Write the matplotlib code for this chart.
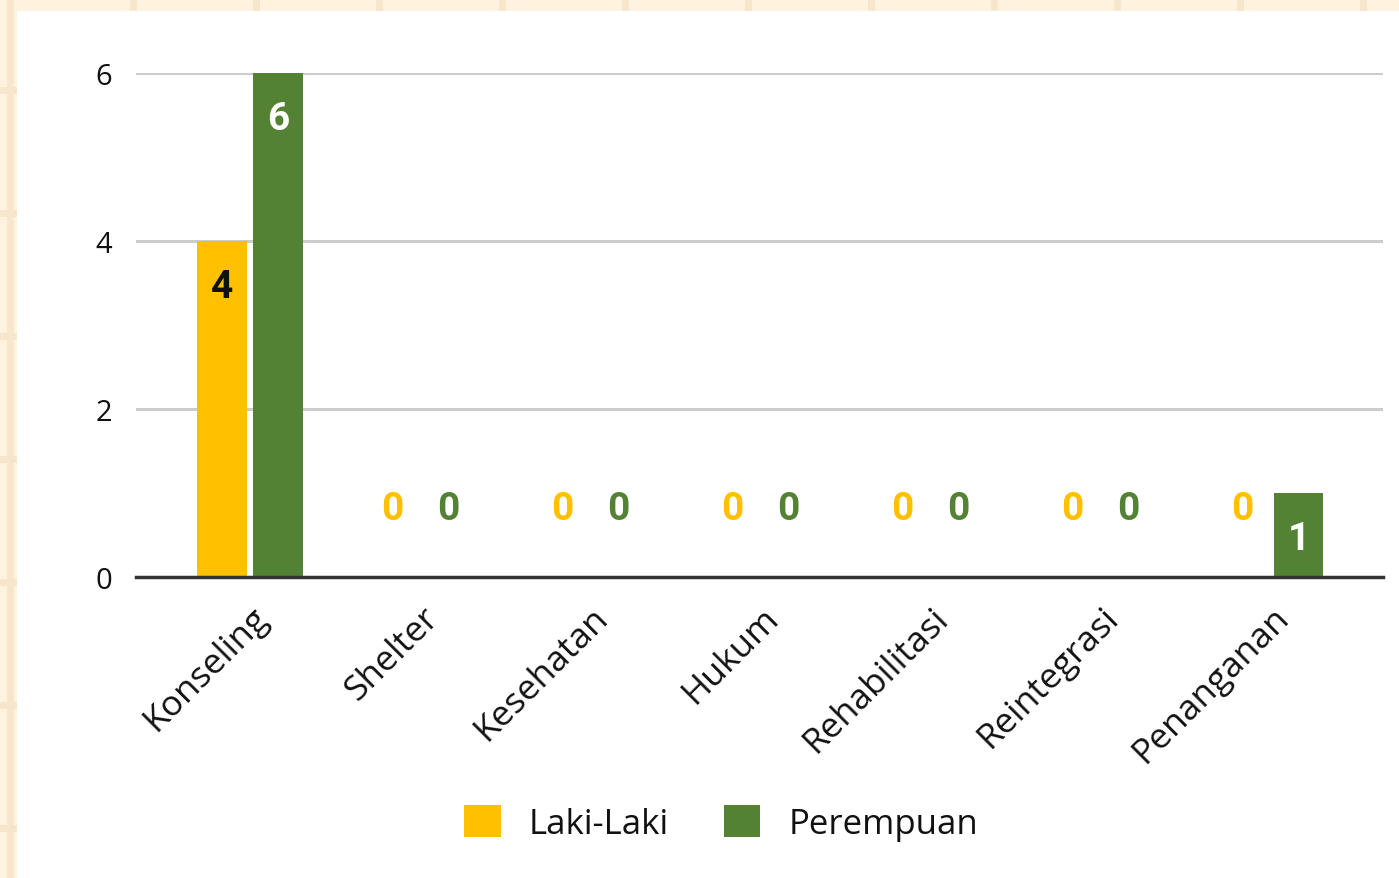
import matplotlib
matplotlib.use("Agg")
import matplotlib.pyplot as plt
import matplotlib.transforms as mtransforms
from matplotlib.patches import Rectangle
import numpy as np

categories = ["Konseling", "Shelter", "Kesehatan", "Hukum", "Rehabilitasi", "Reintegrasi", "Penanganan"]
laki = [4, 0, 0, 0, 0, 0, 0]
perempuan = [6, 0, 0, 0, 0, 0, 1]
series_names = ["Laki-Laki", "Perempuan"]
colors = ["#FFC000", "#548235"]
label_colors_inside = ["#111111", "#ffffff"]
yticks = [0, 2, 4, 6]

W, H = 1399, 879
fig = plt.figure(figsize=(W / 100, H / 100), dpi=100)
fig.patch.set_facecolor("#FFF3DF")

# decorative cream grid background
for gx in range(7, W, 123):
    fig.add_artist(Rectangle((gx / W, 0), 7 / W, 1, transform=fig.transFigure,
                             facecolor="#F8E6CC", edgecolor="none", zorder=-3))
for gy in range(88, H, 123):
    fig.add_artist(Rectangle((0, 1 - (gy + 7) / H), 1, 7 / H, transform=fig.transFigure,
                             facecolor="#F8E6CC", edgecolor="none", zorder=-3))
fig.add_artist(Rectangle((17 / W, 0), 1, 1 - 12 / H, transform=fig.transFigure,
                         facecolor="white", edgecolor="none", zorder=-2))

ax_l, ax_r, ax_t, ax_b = 136, 1383, 74, 578
ax = fig.add_axes([ax_l / W, 1 - ax_b / H, (ax_r - ax_l) / W, (ax_b - ax_t) / H])
ax.set_zorder(1)
ax.set_facecolor("none")

x = np.arange(len(categories))
bw = 0.29
off = 0.165
xs = [x - off, x + off]
vals = [laki, perempuan]
for i in range(2):
    ax.bar(xs[i], vals[i], width=bw, color=colors[i], zorder=3, label=series_names[i])
    for xi, v in zip(xs[i], vals[i]):
        if v > 0:
            ax.annotate(str(v), (xi, v), xytext=(0, -33), textcoords="offset points",
                        ha="center", va="center", fontsize=28, fontweight="bold",
                        color=label_colors_inside[i], family="Roboto", zorder=4)
        else:
            ax.annotate(str(v), (xi, 0), xytext=(0, 49), textcoords="offset points",
                        ha="center", va="center", fontsize=28, fontweight="bold",
                        color=colors[i], family="Roboto", zorder=4)

ax.set_xlim(-0.67, 6.66)
ax.set_ylim(0, 6)
ax.set_yticks(yticks)
ax.set_yticklabels([str(t) for t in yticks], family="Open Sans", fontsize=21, color="#111111")
ax.tick_params(axis="y", length=0, pad=17)
ax.grid(axis="y", color="#CCCCCC", linewidth=2.2, zorder=1)
ax.set_axisbelow(True)
for s in ["top", "right", "left"]:
    ax.spines[s].set_visible(False)
ax.spines["bottom"].set_color("#333333")
ax.spines["bottom"].set_linewidth(2.5)
ax.spines["bottom"].set_zorder(5)

ax.set_xticks(x)
ax.set_xticklabels(categories, rotation=45, ha="right", va="center",
                   rotation_mode="anchor", family="Open Sans", fontsize=25.5, color="#111111")
ax.tick_params(axis="x", length=0, pad=0)
offset = mtransforms.ScaledTranslation(13 / 100, -35 / 100, fig.dpi_scale_trans)
for lab in ax.get_xticklabels():
    lab.set_transform(lab.get_transform() + offset)

handles = [Rectangle((0, 0), 1, 1, facecolor=c, edgecolor="none") for c in colors]
leg = fig.legend(handles, series_names, loc="center", bbox_to_anchor=(721 / W, 1 - 824 / H),
                 ncol=2, frameon=False, prop={"family": "Open Sans", "size": 25},
                 handlelength=1.05, handleheight=1.05, handletextpad=0.8, columnspacing=1.6)
for t in leg.get_texts():
    t.set_color("#111111")

fig.savefig("out.png", dpi=100, facecolor=fig.get_facecolor())
